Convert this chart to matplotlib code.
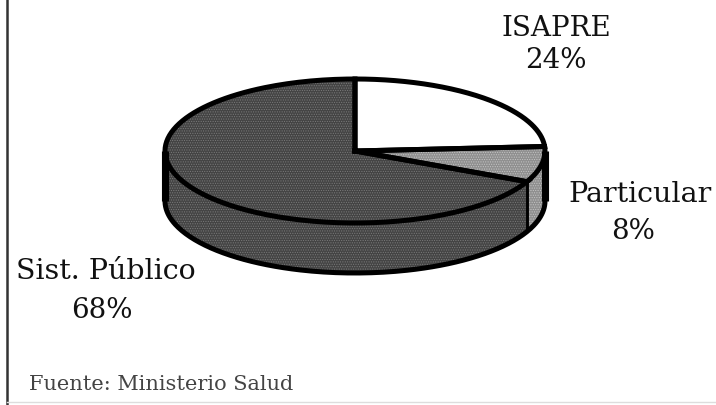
import numpy as np
import matplotlib
matplotlib.use('Agg')
import matplotlib.pyplot as plt

categories = ['ISAPRE', 'Particular', 'Sist. Público']
shares = [24, 8, 68]
fuente = 'Fuente: Ministerio Salud'

colors = ['#ffffff', '#8f8f8f', '#444444']
hatches = [None, '.......', '.......']
hatch_colors = ['black', '#c4c4c4', '#7a7a7a']

cx, cy = 355, 152
rx, ry = 190, 72
depth = 50
lw = 3.6

plt.rcParams['font.family'] = ['DejaVu Serif']
plt.rcParams['hatch.linewidth'] = 0.5

fig = plt.figure(figsize=(7.16, 4.06), dpi=100)
ax = fig.add_axes([0, 0, 1, 1])
ax.set_xlim(0, 716)
ax.set_ylim(406, 0)
ax.axis('off')


def rim(a0, a1, n=200):
    t = np.radians(np.linspace(a0, a1, n))
    return cx + rx * np.cos(t), cy - ry * np.sin(t)


# angles from the shares, clockwise from 12 o'clock
edges = 90 - 3.6 * np.cumsum([0] + shares)

# side of the disc, only the front half shows
for i in [1, 2]:
    a0 = min(edges[i], 0)
    a1 = max(edges[i + 1], -180)
    x, y = rim(a0, a1)
    xs = np.r_[x, x[::-1]]
    ys = np.r_[y, y[::-1] + depth]
    ax.fill(xs, ys, facecolor=colors[i], edgecolor=hatch_colors[i], hatch=hatches[i], lw=0)
    ax.plot([x[0], x[0]], [y[0], y[0] + depth], color='black', lw=lw - 1.5, solid_capstyle='butt')

# outline of the side
x, y = rim(0, -180)
ax.plot(x, y + depth, color='black', lw=lw)
ax.plot([cx - rx, cx - rx], [cy, cy + depth], color='black', lw=lw + 1.5, solid_capstyle='butt')
ax.plot([cx + rx, cx + rx], [cy, cy + depth], color='black', lw=lw + 1.5, solid_capstyle='butt')

# top face
for i in range(3):
    x, y = rim(edges[i], edges[i + 1])
    xs = np.r_[cx, x, cx]
    ys = np.r_[cy, y, cy]
    if hatches[i]:
        ax.fill(xs, ys, facecolor=colors[i], edgecolor=hatch_colors[i], hatch=hatches[i], lw=0)
    else:
        ax.fill(xs, ys, facecolor=colors[i], lw=0)
    ax.plot(xs, ys, color='black', lw=lw, solid_joinstyle='miter')

# frame of the scan
ax.plot([7, 7], [0, 406], color='#333333', lw=1.8)
ax.plot([7, 716], [403, 403], color='#dddddd', lw=1)

ax.text(556, 28, categories[0], fontsize=20, ha='center', va='center', color='#111111')
ax.text(556, 60, '%d%%' % shares[0], fontsize=20, ha='center', va='center', color='#111111')
ax.text(640, 195, categories[1], fontsize=20.5, ha='center', va='center', color='#111111')
ax.text(633, 232, '%d%%' % shares[1], fontsize=20, ha='center', va='center', color='#111111')
ax.text(106, 272, categories[2], fontsize=20.5, ha='center', va='center', color='#111111')
ax.text(102, 311, '%d%%' % shares[2], fontsize=20, ha='center', va='center', color='#111111')
ax.text(29, 385, fuente, fontsize=15, ha='left', va='center', color='#444444')

fig.savefig('out.png', dpi=100)
